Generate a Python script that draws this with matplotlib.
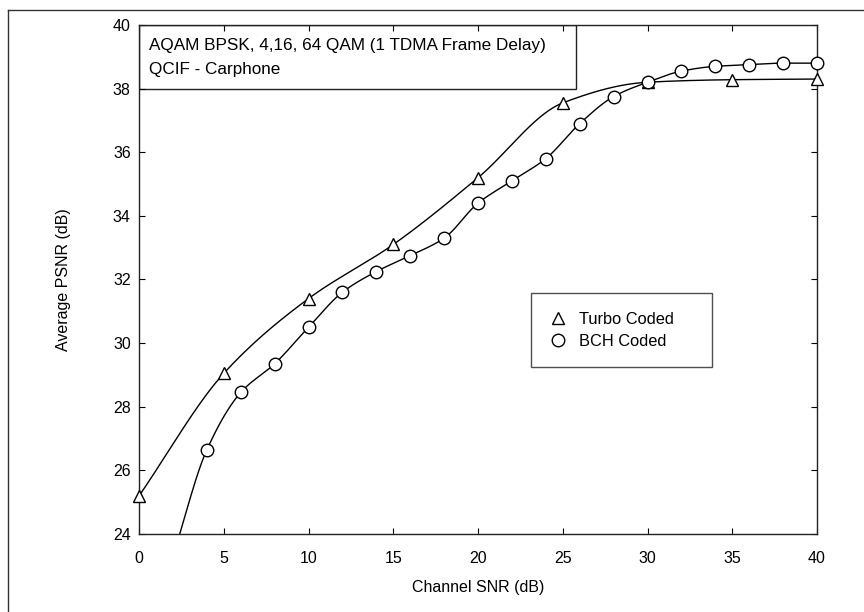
#!/usr/bin/env python3
"""Average PSNR vs channel SNR, turbo vs BCH coded AQAM."""

import matplotlib
matplotlib.use("Agg")
import matplotlib.pyplot as plt
from matplotlib.lines import Line2D
from matplotlib.patches import Rectangle
import numpy as np

plt.rcParams["font.family"] = ["Liberation Sans", "DejaVu Sans"]

# --- data ---
turbo_snr = [0, 5, 10, 15, 20, 25, 30, 35, 40]
turbo_psnr = [25.2, 29.05, 31.4, 33.1, 35.2, 37.55, 38.2, 38.28, 38.3]

# first entry is where the BCH curve enters from below the axis (no marker)
bch_snr = [2, 4, 6, 8, 10, 12, 14, 16, 18, 20, 22, 24, 26, 28, 30, 32, 34, 36, 38, 40]
bch_psnr = [23.3, 26.65, 28.45, 29.35, 30.5, 31.6, 32.25, 32.75, 33.3, 34.4,
            35.1, 35.8, 36.9, 37.75, 38.2, 38.55, 38.7, 38.75, 38.8, 38.8]

x_ticks = [0, 5, 10, 15, 20, 25, 30, 35, 40]
y_ticks = [24, 26, 28, 30, 32, 34, 36, 38, 40]
title_lines = ["AQAM BPSK, 4,16, 64 QAM (1 TDMA Frame Delay)", "QCIF - Carphone"]


def pchip(x, y, xs):
    """Shape-preserving cubic through the points (smooth plotting curve)."""
    x = np.asarray(x, float)
    y = np.asarray(y, float)
    h = np.diff(x)
    d = np.diff(y) / h
    m = np.zeros_like(y)
    for k in range(1, len(x) - 1):
        if d[k - 1] * d[k] > 0:
            w1 = 2 * h[k] + h[k - 1]
            w2 = h[k] + 2 * h[k - 1]
            m[k] = (w1 + w2) / (w1 / d[k - 1] + w2 / d[k])
    m[0] = d[0]
    m[-1] = d[-1]
    idx = np.clip(np.searchsorted(x, xs) - 1, 0, len(x) - 2)
    t = (xs - x[idx]) / h[idx]
    h00 = 2 * t**3 - 3 * t**2 + 1
    h10 = t**3 - 2 * t**2 + t
    h01 = -2 * t**3 + 3 * t**2
    h11 = t**3 - t**2
    return (h00 * y[idx] + h10 * h[idx] * m[idx]
            + h01 * y[idx + 1] + h11 * h[idx] * m[idx + 1])


fig = plt.figure(figsize=(8.64, 6.12), dpi=100)
ax = fig.add_axes([0.161, 0.1275, 0.7846, 0.8317])

# smooth curves
xs = np.linspace(turbo_snr[0], turbo_snr[-1], 400)
ax.plot(xs, pchip(turbo_snr, turbo_psnr, xs), color="black", lw=1.0)
xs = np.linspace(bch_snr[0], bch_snr[-1], 400)
ax.plot(xs, pchip(bch_snr, bch_psnr, xs), color="black", lw=1.0)

# markers
ax.plot(turbo_snr, turbo_psnr, ls="none", marker="^", ms=8, mfc="white",
        mec="black", mew=1.0, label="Turbo Coded", clip_on=False, zorder=3)
ax.plot(bch_snr[1:], bch_psnr[1:], ls="none", marker="o", ms=9, mfc="white",
        mec="black", mew=1.0, label="BCH Coded", clip_on=False, zorder=3)

ax.set_xlim(0, 40)
ax.set_ylim(24, 40)
ax.set_xticks(x_ticks)
ax.set_yticks(y_ticks)
ax.tick_params(direction="in", length=4, width=0.8, top=True, right=True,
               labelsize=11.5)
ax.tick_params(axis="x", pad=12)
ax.tick_params(axis="y", pad=6)
for s in ax.spines.values():
    s.set_linewidth(1.0)
    s.set_color("#222222")

ax.set_xlabel("Channel SNR (dB)", fontsize=11.5, labelpad=10)
ax.set_ylabel("Average PSNR (dB)", fontsize=11.5, labelpad=30)

# title box in the upper left corner
ax.add_patch(Rectangle((0, 38), 25.8, 2, fill=False, ec="#222222", lw=1.0))
ax.text(0.6, 39.36, title_lines[0], fontsize=12.3, va="center", ha="left")
ax.text(0.6, 38.6, title_lines[1], fontsize=12.3, va="center", ha="left")

leg = ax.legend(loc="upper left", bbox_to_anchor=(0.578, 0.328, 0.267, 0.145),
                mode="expand", frameon=True, fancybox=False, fontsize=11.8,
                handlelength=1.0, handletextpad=0.8, borderpad=1.15,
                labelspacing=0.4, borderaxespad=0)
leg.get_frame().set_edgecolor("#222222")
leg.get_frame().set_linewidth(1.0)

# scanned page frame (top and left)
fig.add_artist(Line2D([0.009, 1.0], [0.984, 0.984], color="#333333", lw=1.0))
fig.add_artist(Line2D([0.009, 0.009], [0.0, 0.984], color="#333333", lw=1.0))

fig.savefig("out.png", dpi=100)
